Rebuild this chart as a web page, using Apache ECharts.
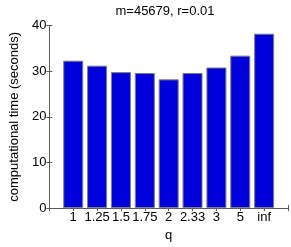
<!DOCTYPE html>
<html><head><meta charset="utf-8">
<script src="https://cdn.jsdelivr.net/npm/echarts@6/dist/echarts.min.js"></script>
<style>html,body{margin:0;padding:0;background:#fff}#c{width:291px;height:247px}</style>
</head><body><div id="c"></div>
<script>
var categories = ['1', '1.25', '1.5', '1.75', '2', '2.33', '3', '5', 'inf'];
var times = [32.3, 31.2, 29.8, 29.6, 28.2, 29.6, 30.8, 33.4, 38.2];
var yTicks = [0, 10, 20, 30, 40];

var font = 'Liberation Sans, Arial, sans-serif';
var axisColor = '#5a5a5a';
var chart = echarts.init(document.getElementById('c'), null, {renderer: 'canvas'});
chart.setOption({
  animation: false,
  backgroundColor: '#fff',
  title: {
    text: 'm=45679, r=0.01', left: 160, top: 0, textAlign: 'center',
    textStyle: {fontFamily: font, fontSize: 13, fontWeight: 'normal', color: '#000'}
  },
  grid: {left: 36, right: 3, top: 25.5, bottom: 31},
  xAxis: [{
    type: 'value', min: 0, max: categories.length + 1, interval: 1,
    name: 'q', nameLocation: 'middle', nameGap: 16,
    nameTextStyle: {fontFamily: font, fontSize: 13, color: '#000', verticalAlign: 'top'},
    axisLine: {lineStyle: {color: axisColor}},
    axisTick: {inside: true, length: 3, lineStyle: {color: axisColor}},
    splitLine: {show: false},
    axisLabel: {fontFamily: font, fontSize: 13, color: '#000', margin: 3,
      formatter: function (v) { return categories[v - 1] || ''; }}
  }, {
    type: 'value', position: 'top', min: 0, max: categories.length + 1, interval: 1,
    axisLine: {show: true, lineStyle: {color: axisColor}},
    axisTick: {inside: true, length: 3, lineStyle: {color: axisColor}},
    axisLabel: {show: false}, splitLine: {show: false}
  }],
  yAxis: [{
    type: 'value', min: yTicks[0], max: yTicks[yTicks.length - 1], interval: 10,
    name: 'computational time (seconds)', nameLocation: 'middle', nameGap: 22,
    nameTextStyle: {fontFamily: font, fontSize: 13, color: '#000'},
    axisLine: {show: true, lineStyle: {color: axisColor}},
    axisTick: {show: true, inside: true, length: 3, lineStyle: {color: axisColor}},
    splitLine: {show: false},
    axisLabel: {fontFamily: font, fontSize: 13, color: '#000', margin: 3}
  }, {
    type: 'value', position: 'right', min: yTicks[0], max: yTicks[yTicks.length - 1], interval: 10,
    axisLine: {show: true, lineStyle: {color: axisColor}},
    axisTick: {show: true, inside: true, length: 3, lineStyle: {color: axisColor}},
    axisLabel: {show: false}, splitLine: {show: false}
  }],
  series: [{
    type: 'bar',
    xAxisIndex: 0, yAxisIndex: 0,
    barWidth: 20,
    data: times.map(function (v, i) { return [i + 1, v]; }),
    itemStyle: {color: '#0000dc', borderColor: '#7f7f7f', borderWidth: 1}
  }]
});
</script></body></html>
